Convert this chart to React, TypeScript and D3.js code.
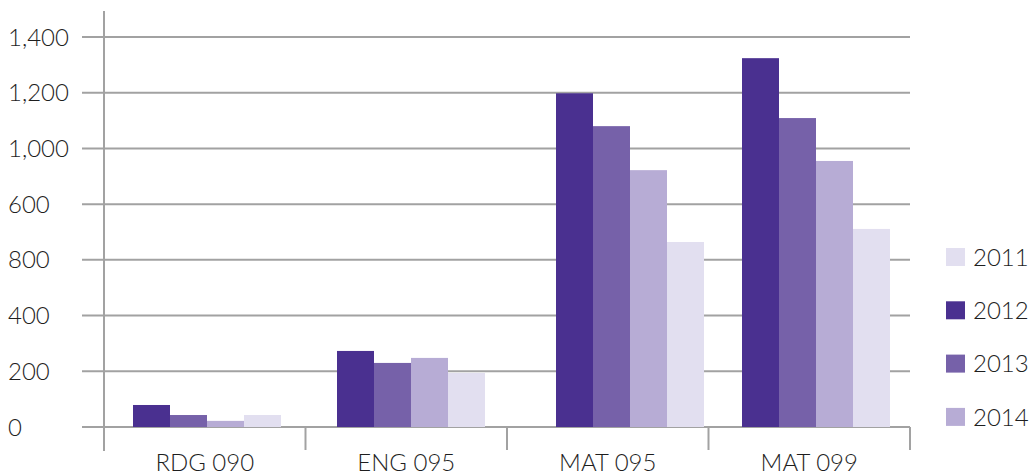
import React from "react";
import * as d3 from "d3";

const categories = ["RDG 090", "ENG 095", "MAT 095", "MAT 099"];
const barSeries = ["2012", "2013", "2014", "2011"];
const values2012 = [79, 273, 1198, 1324];
const values2013 = [43, 230, 1080, 1109];
const values2014 = [22, 248, 922, 955];
const values2011 = [43, 194, 664, 711];
const tickValues = [0, 200, 400, 600, 800, 1000, 1200, 1400];
const tickLabels = ["0", "200", "400", "800", "600", "1,000", "1,200", "1,400"];
const legendYears = ["2011", "2012", "2013", "2014"];

// left inset of each bar cluster inside its category band
const clusterInset = [29, 31.5, 49, 33.5];

const colors: Record<string, string> = {
  "2012": "#4a3090",
  "2013": "#7661a9",
  "2014": "#b7acd5",
  "2011": "#e2dff0",
};

const seriesValues: Record<string, number[]> = {
  "2012": values2012,
  "2013": values2013,
  "2014": values2014,
  "2011": values2011,
};

export default function App() {
  const W = 1031;
  const H = 474;
  const left = 104;
  const right = 910;
  const y = d3.scaleLinear().domain([0, 1400]).range([427, 37]);
  const x0 = d3.scaleBand().domain(categories).range([left, right]).paddingInner(0).paddingOuter(0);
  const bw = 37;
  const font = "Lato, 'Open Sans', sans-serif";
  const grid = "#a2a2a2";
  const txt = "#1e1e1e";

  return (
    <svg width={W} height={H} style={{ position: "absolute", left: 0, top: 0 }}>
      <rect width={W} height={H} fill="#fff" />
      {tickValues.map((v, i) => (
        <g key={v}>
          <line x1={82} x2={right} y1={y(v)} y2={y(v)} stroke={grid} strokeWidth={2} />
          <text x={8} y={y(v)} dy="0.36em" fontFamily={font} fontWeight={300} fontSize={24} fill={txt}>
            {tickLabels[i]}
          </text>
        </g>
      ))}
      {categories.map((c, ci) => {
        const gx = (x0(c) as number) + clusterInset[ci];
        return (
          <g key={c}>
            {barSeries.map((s, si) => {
              const v = seriesValues[s][ci];
              return (
                <rect
                  key={s}
                  x={gx + si * bw}
                  y={y(v)}
                  width={bw}
                  height={y(0) - y(v)}
                  fill={colors[s]}
                />
              );
            })}
            <text
              x={(x0(c) as number) + x0.bandwidth() / 2}
              y={471}
              textAnchor="middle"
              fontFamily={font}
              fontWeight={300}
              fontSize={24}
              fill={txt}
            >
              {c}
            </text>
          </g>
        );
      })}
      <line x1={left} x2={left} y1={11} y2={451} stroke={grid} strokeWidth={2} />
      {categories.concat(["end"]).map((c, i) => {
        const xx = left + i * x0.bandwidth();
        return <line key={c} x1={xx} x2={xx} y1={427} y2={450} stroke={grid} strokeWidth={2} />;
      })}
      {legendYears.map((yr, i) => (
        <g key={yr} transform={`translate(946, ${248 + i * 53.3})`}>
          <rect width={19} height={18} fill={colors[yr]} />
          <text x={27} y={9} dy="0.36em" fontFamily={font} fontWeight={300} fontSize={24} fill={txt}>
            {yr}
          </text>
        </g>
      ))}
    </svg>
  );
}
